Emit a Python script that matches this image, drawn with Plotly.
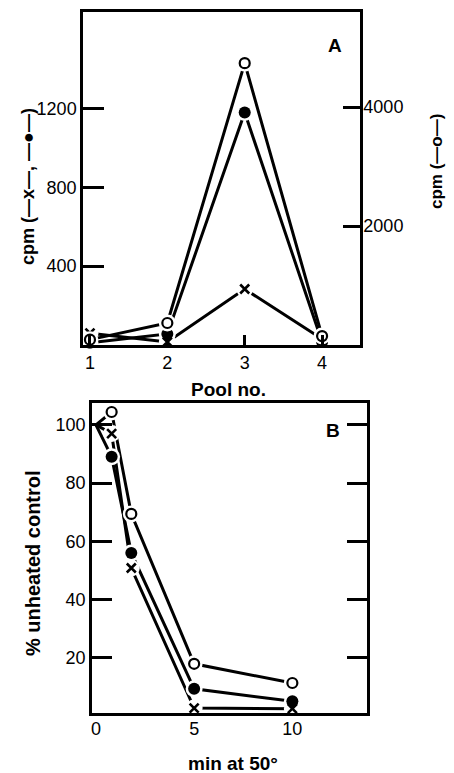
import plotly.graph_objects as go

# ---- data ----
pool = [1, 2, 3, 4]
a_filled = [12, 56, 1180, 15]      # left axis, cpm (filled circles)
a_cross = [60, 15, 284, 30]        # left axis, cpm (crosses)
a_open = [90, 370, 4740, 150]      # right axis, cpm (open circles)

minutes = [0, 0.8, 1.8, 5, 10]
b_open = [100, 104.4, 69.4, 17.9, 11.3]
b_filled = [100, 89, 56, 9.3, 5]
b_cross = [100, 97, 50.8, 2.7, 2.5]

a_left_ticks = [400, 800, 1200]
a_right_ticks = [2000, 4000]
b_y_ticks = [20, 40, 60, 80, 100]
b_x_ticks = [0, 5, 10]

FONT = "Liberation Sans"
PAGE_W, PAGE_H = 454, 773
OFF = 8                      # default body margin of the html page
W, H = PAGE_W - OFF, PAGE_H - OFF
LW = 3

def px(x):
    return (x - OFF) / W

def py(y):
    return 1 - (y - OFF) / H

fig = go.Figure()

def add_line(x, y, xa, ya, kind, first):
    fig.add_trace(go.Scatter(x=x, y=y, xaxis=xa, yaxis=ya, mode="lines",
                             line=dict(color="black", width=LW), showlegend=False,
                             hoverinfo="skip"))

def add_halo(x, y, xa, ya, kind, first):
    fig.add_trace(go.Scatter(x=x[first:], y=y[first:], xaxis=xa, yaxis=ya, mode="markers",
                             marker=dict(color="white", size=17, line=dict(width=0)),
                             showlegend=False, hoverinfo="skip", cliponaxis=False))

def add_markers(x, y, xa, ya, kind, first):
    if kind == "open":
        m = dict(symbol="circle", size=10, color="white", line=dict(color="black", width=2.2))
    elif kind == "filled":
        m = dict(symbol="circle", size=12, color="black", line=dict(color="black", width=0))
    else:
        m = dict(symbol="x-thin", size=9, color="black", line=dict(color="black", width=2.6))
    fig.add_trace(go.Scatter(x=x[first:], y=y[first:], xaxis=xa, yaxis=ya, mode="markers",
                             marker=m, showlegend=False, cliponaxis=False))

# (x, y, xaxis, yaxis, kind, first marked point)
series = [
    (pool, a_open, "x", "y2", "open", 0),
    (pool, a_filled, "x", "y", "filled", 0),
    (pool, a_cross, "x", "y", "cross", 0),
    (minutes, b_open, "x2", "y3", "open", 1),
    (minutes, b_filled, "x2", "y3", "filled", 1),
    (minutes, b_cross, "x2", "y3", "cross", 1),
]
for s in series:
    add_line(*s)
for s in series:
    add_halo(*s)
for s in series:
    add_markers(*s)

tickfont = dict(family=FONT, size=18, color="black")
common = dict(showgrid=False, zeroline=False, showline=True, linecolor="black",
              linewidth=2.5, tickfont=tickfont, ticks="inside", tickcolor="black",
              tickwidth=2.5)

fig.update_layout(
    width=W, height=H, margin=dict(l=0, r=0, t=0, b=0),
    paper_bgcolor="white", plot_bgcolor="white",
    xaxis=dict(domain=[px(83), px(360)], range=[0.91, 4.49], tickvals=pool,
               ticklen=10, mirror=True, anchor="y", **common),
    yaxis=dict(domain=[py(345), py(12)], range=[0, 1690],
               tickvals=a_left_ticks, ticklen=21, anchor="x", **common),
    yaxis2=dict(domain=[py(345), py(12)], range=[0, 5600],
                tickvals=a_right_ticks, ticklen=17, overlaying="y", side="right",
                anchor="x", ticklabelstandoff=-3, **common),
    xaxis2=dict(domain=[px(92), px(367)], range=[-0.2, 13.8], tickvals=b_x_ticks,
                ticklen=0, mirror=True, anchor="y3", ticklabelstandoff=-2, **common),
    yaxis3=dict(domain=[py(713), py(403)], range=[1, 107.5],
                tickvals=b_y_ticks, ticklen=20, mirror="ticks", anchor="x2", **common),
)

def ann(text, x, y, angle=0, size=18):
    fig.add_annotation(text=f"<b>{text}</b>", x=px(x), y=py(y),
                       xref="paper", yref="paper", showarrow=False,
                       textangle=angle, font=dict(family=FONT, size=size, color="black"),
                       xanchor="center", yanchor="middle")

ann("A", 335, 45, size=19)
ann("B", 333, 430, size=19)
ann("Pool no.", 228, 389, size=19)
ann("min at 50°", 233, 763, size=19)
ann("cpm (—x—, —●—)", 28, 187, angle=-90, size=18)
ann("cpm (—o—)", 437, 162, angle=-90, size=17)
ann("% unheated control", 33, 563, angle=-90, size=20)

fig.write_html("out.html")
